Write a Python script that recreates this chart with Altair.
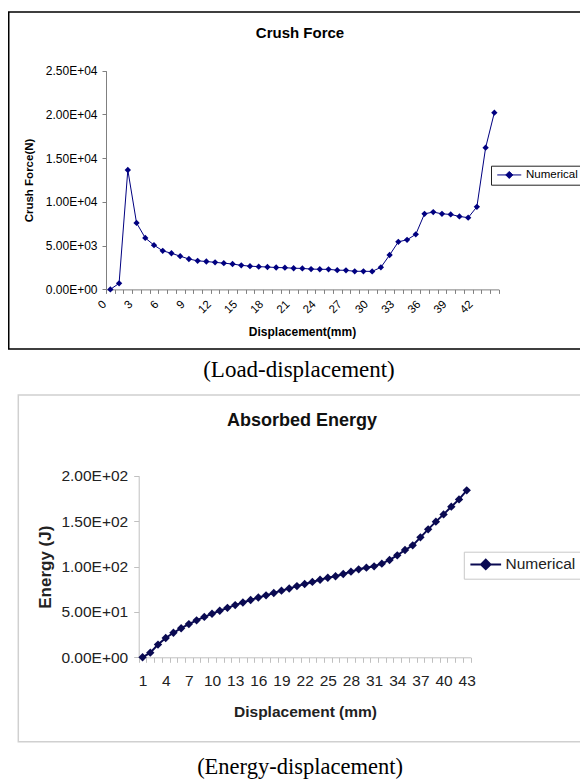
import altair as alt
import pandas as pd

# ---------------- data ----------------
series_name = "Numerical"

# Load-displacement (Crush Force) chart
crush_disp = list(range(0, 45))
crush_force = [0, 690, 13650, 7600, 5880, 5060, 4410, 4130, 3800, 3475,
               3265, 3190, 3090, 3000, 2900, 2750, 2660, 2600, 2560, 2500,
               2480, 2420, 2400, 2320, 2300, 2290, 2200, 2180, 2070, 2070,
               2060, 2520, 3930, 5440, 5670, 6300, 8640, 8840, 8640, 8570,
               8340, 8200, 9440, 16200, 20200]
crush_x_labels = [0, 3, 6, 9, 12, 15, 18, 21, 24, 27, 30, 33, 36, 39, 42]
crush_y_ticks = [0, 5000, 10000, 15000, 20000, 25000]
crush_y_text = ["0.00E+00", "5.00E+03", "1.00E+04", "1.50E+04", "2.00E+04", "2.50E+04"]

# Energy-displacement (Absorbed Energy) chart
energy_disp = list(range(1, 44))
energy_vals = [0, 5.1, 14.0, 21.3, 27.0, 32.0, 36.6, 40.7, 44.5, 48.0,
               51.3, 54.5, 57.5, 60.4, 63.1, 65.9, 68.2, 70.8, 73.4, 75.8,
               78.4, 80.7, 83.0, 85.4, 87.6, 89.3, 91.8, 94.3, 96.9, 98.7,
               100.2, 103.1, 107.2, 112.3, 118.2, 123.3, 132.1, 140.9, 149.4, 157.4,
               165.9, 173.9, 183.9]
energy_x_labels = [1, 4, 7, 10, 13, 16, 19, 22, 25, 28, 31, 34, 37, 40, 43]
energy_y_ticks = [0, 50, 100, 150, 200]
energy_y_text = ["0.00E+00", "5.00E+01", "1.00E+02", "1.50E+02", "2.00E+02"]

# ---------------- layout ----------------
W, H = 572, 773
SANS = "Liberation Sans"
SERIF = "Liberation Serif"

df1 = pd.DataFrame({"disp": crush_disp, "force": crush_force, "series": series_name})
df2 = pd.DataFrame({"disp": energy_disp, "energy": energy_vals, "series": series_name})


def lookup_expr(vals, texts):
    t = ",".join("'%s'" % s for s in texts)
    v = ",".join(str(x) for x in vals)
    return "[%s][indexof([%s], datum.value)]" % (t, v)


def cat_label_expr(labels):
    v = ",".join(str(x) for x in labels)
    return "indexof([%s], datum.value + 0.5) >= 0 ? '' + (datum.value + 0.5) : ''" % v


# --- top chart geometry (canvas px)
t_x0, t_x1 = 98, 490.7
t_y0, t_y1 = 281.4, 62.7
n1 = len(crush_disp)

x1 = alt.X(
    "disp:Q",
    scale=alt.Scale(domain=[crush_disp[0] - 0.5, crush_disp[-1] + 0.5], range=[t_x0, t_x1], nice=False, zero=False),
    axis=alt.Axis(
        orient="bottom", offset=t_y0 - H,
        values=[crush_disp[0] - 0.5 + i for i in range(n1 + 1)],
        labelExpr=cat_label_expr(crush_x_labels),
        labelAngle=315, labelAlign="right", labelBaseline="middle",
        labelOffset=-1.6, labelPadding=9,
        labelOverlap=False, labelFlush=False, labelBound=False,
        labelFont=SANS, labelFontSize=11.5, labelColor="black",
        tickSize=4, tickColor="#808080", domainColor="#808080", grid=False,
        title="Displacement(mm)", titleFont=SANS, titleFontSize=12, titleFontWeight="bold",
        titleColor="black", titleX=294, titleY=41.6, titleAlign="center", titleBaseline="middle", titleAngle=0,
    ),
)
y1 = alt.Y(
    "force:Q",
    scale=alt.Scale(domain=[0, 25000], range=[t_y0, t_y1], nice=False, zero=True),
    axis=alt.Axis(
        orient="left", offset=-t_x0,
        values=crush_y_ticks, labelExpr=lookup_expr(crush_y_ticks, crush_y_text),
        labelFont=SANS, labelFontSize=12, labelColor="black", labelPadding=5,
        labelOverlap=False, labelFlush=False, labelBound=False,
        tickSize=4, tickColor="#808080", domainColor="#808080", grid=False,
        title="Crush Force(N)", titleFont=SANS, titleFontSize=11.5, titleFontWeight="bold",
        titleColor="black", titleX=-77, titleY=172, titleAlign="center", titleBaseline="middle", titleAngle=270,
    ),
)
c1 = alt.Color(
    "series:N",
    scale=alt.Scale(domain=[series_name], range=["#000080"]),
    legend=alt.Legend(
        orient="none", legendX=483, legendY=157.7, title=None,
        strokeColor="#222222", fillColor="white", padding=3.5, cornerRadius=0,
        symbolType="M-2.4,0H2.4M0,-0.7L0.7,0L0,0.7L-0.7,0Z", symbolSize=100,
        symbolStrokeWidth=1, symbolOffset=9, labelOffset=11,
        symbolFillColor="#000080", symbolStrokeColor="#000080",
        labelFont=SANS, labelFontSize=11.5, labelColor="black",
    ),
)
base1 = alt.Chart(df1).encode(x=x1, y=y1, color=c1)
top = alt.layer(
    base1.mark_line(strokeWidth=1),
    base1.mark_point(shape="diamond", filled=True, size=40, opacity=1),
)

# --- bottom chart geometry (canvas px)
b_x0, b_x1 = 130.7, 462.6
b_y0, b_y1 = 649.3, 467.7
n2 = len(energy_disp)
navy2 = "#0a0a52"

x2 = alt.X(
    "disp:Q",
    scale=alt.Scale(domain=[energy_disp[0] - 0.5, energy_disp[-1] + 0.5], range=[b_x0, b_x1], nice=False, zero=False),
    axis=alt.Axis(
        orient="bottom", offset=b_y0 - H,
        values=[energy_disp[0] - 0.5 + i for i in range(n2 + 1)],
        labelExpr=cat_label_expr(energy_x_labels),
        labelAngle=0, labelAlign="center", labelBaseline="top",
        labelOffset=(b_x1 - b_x0) / n2 / 2, labelPadding=11,
        labelOverlap=False, labelFlush=False, labelBound=False,
        labelFont=SANS, labelFontSize=15.5, labelColor="#222222",
        tickSize=5, tickColor="#c0c0c0", domainColor="#c0c0c0", grid=False,
        title="Displacement (mm)", titleFont=SANS, titleFontSize=15.5, titleFontWeight="bold",
        titleColor="#222222", titleX=297, titleY=54.4, titleAlign="center", titleBaseline="middle", titleAngle=0,
    ),
)
y2 = alt.Y(
    "energy:Q",
    scale=alt.Scale(domain=[0, 200], range=[b_y0, b_y1], nice=False, zero=True),
    axis=alt.Axis(
        orient="left", offset=-b_x0,
        values=energy_y_ticks, labelExpr=lookup_expr(energy_y_ticks, energy_y_text),
        labelFont=SANS, labelFontSize=15.5, labelColor="#222222", labelPadding=6,
        labelOverlap=False, labelFlush=False, labelBound=False,
        tickSize=5, tickColor="#c0c0c0", domainColor="#c0c0c0", grid=False,
        title="Energy (J)", titleFont=SANS, titleFontSize=17, titleFontWeight="bold",
        titleColor="#222222", titleX=-93.7, titleY=558.7, titleAlign="center", titleBaseline="middle", titleAngle=270,
    ),
)
c2 = alt.Color(
    "series:N",
    scale=alt.Scale(domain=[series_name], range=[navy2]),
    legend=alt.Legend(
        orient="none", legendX=455.8, legendY=543.7, title=None,
        strokeColor="#c8c8c8", fillColor="white", padding=5, cornerRadius=0,
        symbolType="M-3.07,0H3.07M0,-0.95L0.95,0L0,0.95L-0.95,0Z", symbolSize=100,
        symbolStrokeWidth=2, symbolOffset=9.2, labelOffset=12,
        symbolFillColor=navy2, symbolStrokeColor=navy2,
        labelFont=SANS, labelFontSize=15.5, labelColor="#222222",
    ),
)
base2 = alt.Chart(df2).encode(x=x2, y=y2, color=c2)
bottom = alt.layer(
    base2.mark_line(strokeWidth=2),
    base2.mark_point(shape="diamond", filled=True, size=70, opacity=1),
)

# --- decorations: frames, titles, captions
one = alt.Data(values=[{"k": 1}])

frame1 = alt.Chart(one).mark_rect(fillOpacity=0, stroke="black", strokeWidth=1.5).encode(
    x=alt.value(0.75), x2=alt.value(600), y=alt.value(4), y2=alt.value(341))
frame2 = alt.Chart(one).mark_rect(fillOpacity=0, stroke="#d0d0d0", strokeWidth=1.5).encode(
    x=alt.value(10.3), x2=alt.value(576), y=alt.value(387), y2=alt.value(733.7))


def label(text, x, y, size, font=SANS, weight="bold", color="black"):
    return alt.Chart(one).mark_text(
        text=text, font=font, fontSize=size, fontWeight=weight, color=color,
        align="center", baseline="middle",
    ).encode(x=alt.value(x), y=alt.value(y))


title1 = label("Crush Force", 292, 24.5, 15)
title2 = label("Absorbed Energy", 294, 413, 18, color="#111111")
cap1 = label("(Load-displacement)", 291, 362, 23, font=SERIF, weight="normal")
cap2 = label("(Energy-displacement)", 292, 759, 22.5, font=SERIF, weight="normal")

chart = alt.layer(
    frame1, frame2, top, bottom, title1, title2, cap1, cap2
).resolve_scale(
    x="independent", y="independent", color="independent"
).properties(
    width=W, height=H, padding=0, autosize=alt.AutoSizeParams(type="none"),
    background="white",
).configure_view(strokeWidth=0)

chart.save("out.html", embed_options={"renderer": "svg", "actions": False})
